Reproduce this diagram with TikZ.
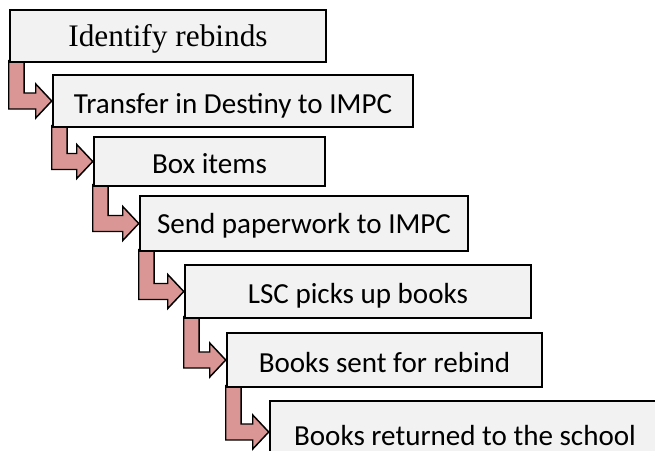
\documentclass[tikz,border=0pt]{standalone}
\usepackage{fontspec}
\setmainfont{Liberation Serif}
\newfontfamily\calib{Carlito}
\usetikzlibrary{calc,backgrounds}
\definecolor{boxfill}{HTML}{F2F2F2}
\definecolor{arrfill}{HTML}{D99694}
\tikzset{
  stepbox/.style={draw=black, line width=1.9pt, fill=boxfill, inner sep=0pt,
    text height=17.5pt, text depth=0pt, font=\calib\fontsize{21.8}{26}\selectfont},
  arrowshape/.style={draw=black, line width=1.1pt, fill=arrfill, line join=miter}
}
\newcommand\bentarr[2]{%
  \path[arrowshape] let \p1=(#1.south west), \p2=(#2.west) in
   (\x1,\y1+2pt) -- (\x1+11.5pt,\y1+2pt) -- (\x1+11.5pt,\y2+6pt)
   -- (\x2-12pt,\y2+6pt) -- (\x2-12pt,\y2+12.75pt) -- (\x2,\y2)
   -- (\x2-12pt,\y2-12.75pt) -- (\x2-12pt,\y2-6pt) -- (\x1,\y2-6pt) -- cycle;}
\begin{document}
\begin{tikzpicture}[x=0.75pt,y=-0.75pt]
\clip (0,0) rectangle (655,450);
\node[stepbox, minimum width=316*0.75pt, minimum height=52*0.75pt, text height=16pt,
      font=\rmfamily\fontsize{23.5}{28}\selectfont] (b1) at (168,36) {Identify rebinds};
\node[stepbox, minimum width=360*0.75pt, minimum height=52*0.75pt, text height=18.5pt] (b2) at (233,101) {Transfer in Destiny to IMPC};
\node[stepbox, minimum width=231*0.75pt, minimum height=49*0.75pt] (b3) at (209.5,161.5) {Box items};
\node[stepbox, minimum width=328*0.75pt, minimum height=55*0.75pt, text height=14.5pt] (b4) at (304,223.5) {Send paperwork to IMPC};
\node[stepbox, minimum width=346*0.75pt, minimum height=53*0.75pt] (b5) at (358,291.5) {LSC picks up books};
\node[stepbox, minimum width=315*0.75pt, minimum height=54*0.75pt, text height=18pt] (b6) at (384.5,360) {Books sent for rebind};
\node[stepbox, minimum width=390*0.75pt, minimum height=62*0.75pt, text height=19.5pt] (b7) at (465,432) {Books returned to the school};
\begin{scope}[on background layer]
\bentarr{b1}{b2}
\bentarr{b2}{b3}
\bentarr{b3}{b4}
\bentarr{b4}{b5}
\bentarr{b5}{b6}
\bentarr{b6}{b7}
\end{scope}
\end{tikzpicture}
\end{document}
